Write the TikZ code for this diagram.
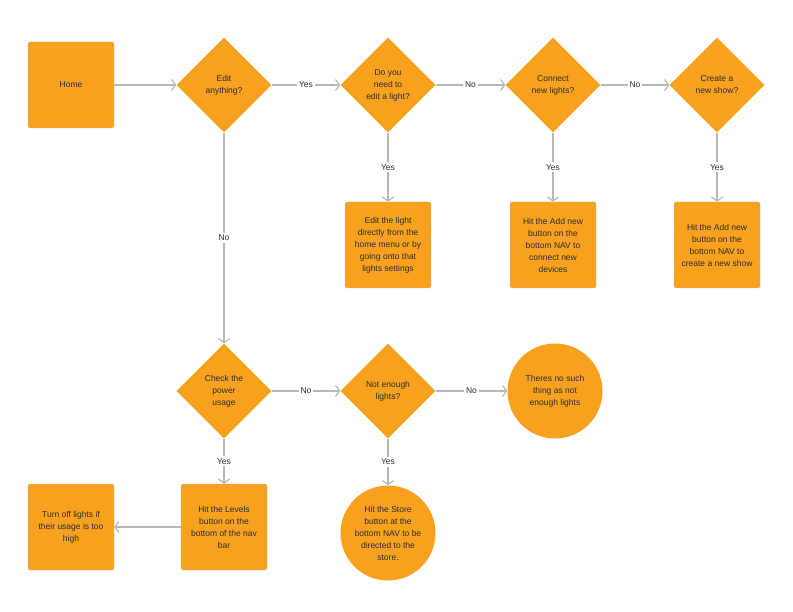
\documentclass[tikz,border=0pt]{standalone}
\usepackage{fontspec}
\setmainfont{Liberation Sans}
\usetikzlibrary{shapes.geometric,arrows.meta}
\definecolor{boxorange}{HTML}{F7A11F}
\definecolor{linegray}{HTML}{B8B8B8}
\definecolor{textgray}{HTML}{2E2E2E}

\begin{document}
\begin{tikzpicture}[x=1pt,y=-1pt]

\tikzset{
  box/.style={fill=boxorange, draw=gray!45, line width=0.4pt, rounded corners=1.5pt,
    minimum width=86, minimum height=86, inner sep=0, align=center,
    font=\fontsize{8.5}{12}\selectfont, text=textgray},
  decision/.style={diamond, aspect=1, fill=boxorange, minimum width=95, minimum height=95,
    inner sep=0, align=center, font=\fontsize{8.5}{12}\selectfont, text=textgray},
  endcircle/.style={circle, fill=boxorange, minimum size=95, inner sep=0, align=center,
    font=\fontsize{8.5}{12}\selectfont, text=textgray},
  link/.style={draw=linegray, line width=1.2pt, -{Straight Barb[length=4pt,width=11pt]}},
  answer/.style={fill=white, inner sep=2pt, font=\fontsize{8.5}{10}\selectfont, text=textgray}
}

\useasboundingbox (0,0) rectangle (793,612);

% top row
\node[box] (home) at (71,85) {Home};
\node[decision] (edit) at (224,85) {Edit\\anything?};
\node[decision] (light) at (388,85) {Do you\\need to\\edit a light?};
\node[decision] (connect) at (553,85) {Connect\\new lights?};
\node[decision] (show) at (717,85) {Create a\\new show?};

\node[box] (editlight) at (388,245) {Edit the light\\directly from the\\home menu or by\\going onto that\\lights settings};
\node[box] (addlight) at (553,245) {Hit the Add new\\button on the\\bottom NAV to\\connect new\\devices};
\node[box] (addshow) at (717,245) {Hit the Add new\\button on the\\bottom NAV to\\create a new show};

% bottom rows
\node[decision] (power) at (224,391) {Check the\\power\\usage};
\node[decision] (enough) at (388,391) {Not enough\\lights?};
\node[endcircle] (nosuch) at (555,391) {Theres no such\\thing as not\\enough lights};

\node[box] (levels) at (224,527) {Hit the Levels\\button on the\\bottom of the nav\\bar};
\node[box] (turnoff) at (71,527) {Turn off lights if\\their usage is too\\high};
\node[endcircle] (store) at (388,533) {Hit the Store\\button at the\\bottom NAV to be\\directed to the\\store.};

\draw[link] (home) -- (edit);
\draw[link] (levels) -- (turnoff);

\foreach \from/\to/\ans in {edit/light/Yes, light/connect/No, connect/show/No,
  light/editlight/Yes, connect/addlight/Yes, show/addshow/Yes, edit/power/No,
  power/enough/No, enough/nosuch/No, power/levels/Yes, enough/store/Yes}
{
\draw[link] (\from) -- node[answer] {\ans} (\to);
}
\end{tikzpicture}
\end{document}
